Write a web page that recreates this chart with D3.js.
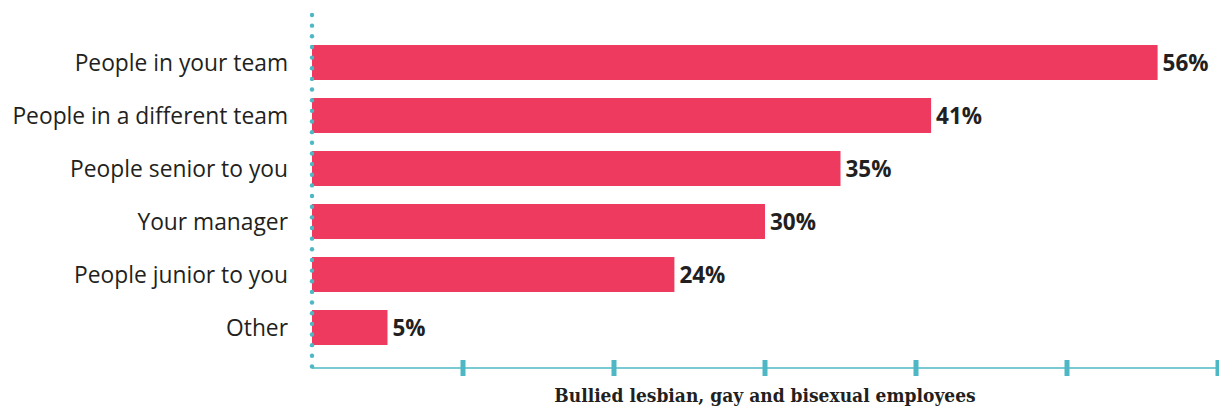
<!DOCTYPE html>
<html>
<head>
<meta charset="utf-8">
<script src="https://cdn.jsdelivr.net/npm/d3@7"></script>
<style>
  body { margin: 0; background: #fff; }
  svg { display: block; }
</style>
</head>
<body>
<svg id="chart"></svg>
<script>
// data
const categories = ["People in your team", "People in a different team", "People senior to you", "Your manager", "People junior to you", "Other"]
const values = [56, 41, 35, 30, 24, 5]
const ticks = [0, 10, 20, 30, 40, 50, 60]
const axisTitle = "Bullied lesbian, gay and bisexual employees"

const W = 1219, H = 408
const pink = "#ee3a5f", teal = "#4db8c4"

let svg = d3.select("#chart").attr("width", W).attr("height", H)

let x = d3.scaleLinear().domain([0, 60]).range([312, 1218])
let y = d3.scaleBand().domain(categories).range([36, 354]).paddingInner(0.34).paddingOuter(0.17)

//bars
svg.selectAll("rect.bar").data(values).enter().append("rect")
  .attr("class", "bar")
  .attr("x", x(0))
  .attr("y", (d, i) => y(categories[i]))
  .attr("width", d => x(d) - x(0))
  .attr("height", y.bandwidth())
  .attr("fill", pink)

//value labels
svg.selectAll("text.val").data(values).enter().append("text")
  .attr("class", "val")
  .attr("x", d => x(d) + 5)
  .attr("y", (d, i) => y(categories[i]) + y.bandwidth() / 2)
  .attr("dy", "0.36em")
  .attr("font-family", "Open Sans, sans-serif")
  .attr("font-weight", "bold")
  .attr("font-size", 22.5)
  .attr("fill", "#231f20")
  .text(d => d + "%")

//category labels
svg.selectAll("text.cat").data(categories).enter().append("text")
  .attr("class", "cat")
  .attr("x", 288)
  .attr("y", d => y(d) + y.bandwidth() / 2)
  .attr("dy", "0.36em")
  .attr("text-anchor", "end")
  .attr("font-family", "Open Sans, sans-serif")
  .attr("font-size", 22.8)
  .attr("fill", "#231f20")
  .text(d => d)

//x axis line and ticks
let axisY = 368
svg.append("line")
  .attr("x1", x(0)).attr("x2", x(60))
  .attr("y1", axisY).attr("y2", axisY)
  .attr("stroke", teal).attr("stroke-width", 1.5)
svg.selectAll("rect.tick").data(ticks.slice(1)).enter().append("rect")
  .attr("class", "tick")
  .attr("x", d => x(d) - 2.5)
  .attr("y", axisY - 8)
  .attr("width", 5)
  .attr("height", 16)
  .attr("fill", teal)

//dotted y axis
let dots = d3.range(15, 377, 10.65)
svg.selectAll("circle.dot").data(dots).enter().append("circle")
  .attr("class", "dot")
  .attr("cx", x(0))
  .attr("cy", d => d)
  .attr("r", 2.2)
  .attr("fill", teal)

//axis title
svg.append("text")
  .attr("x", 765)
  .attr("y", 402)
  .attr("text-anchor", "middle")
  .attr("font-family", "DejaVu Serif Condensed, DejaVu Serif, serif")
  .attr("font-weight", "bold")
  .attr("font-size", 19)
  .attr("fill", "#231f20")
  .text(axisTitle)
</script>
</body>
</html>
